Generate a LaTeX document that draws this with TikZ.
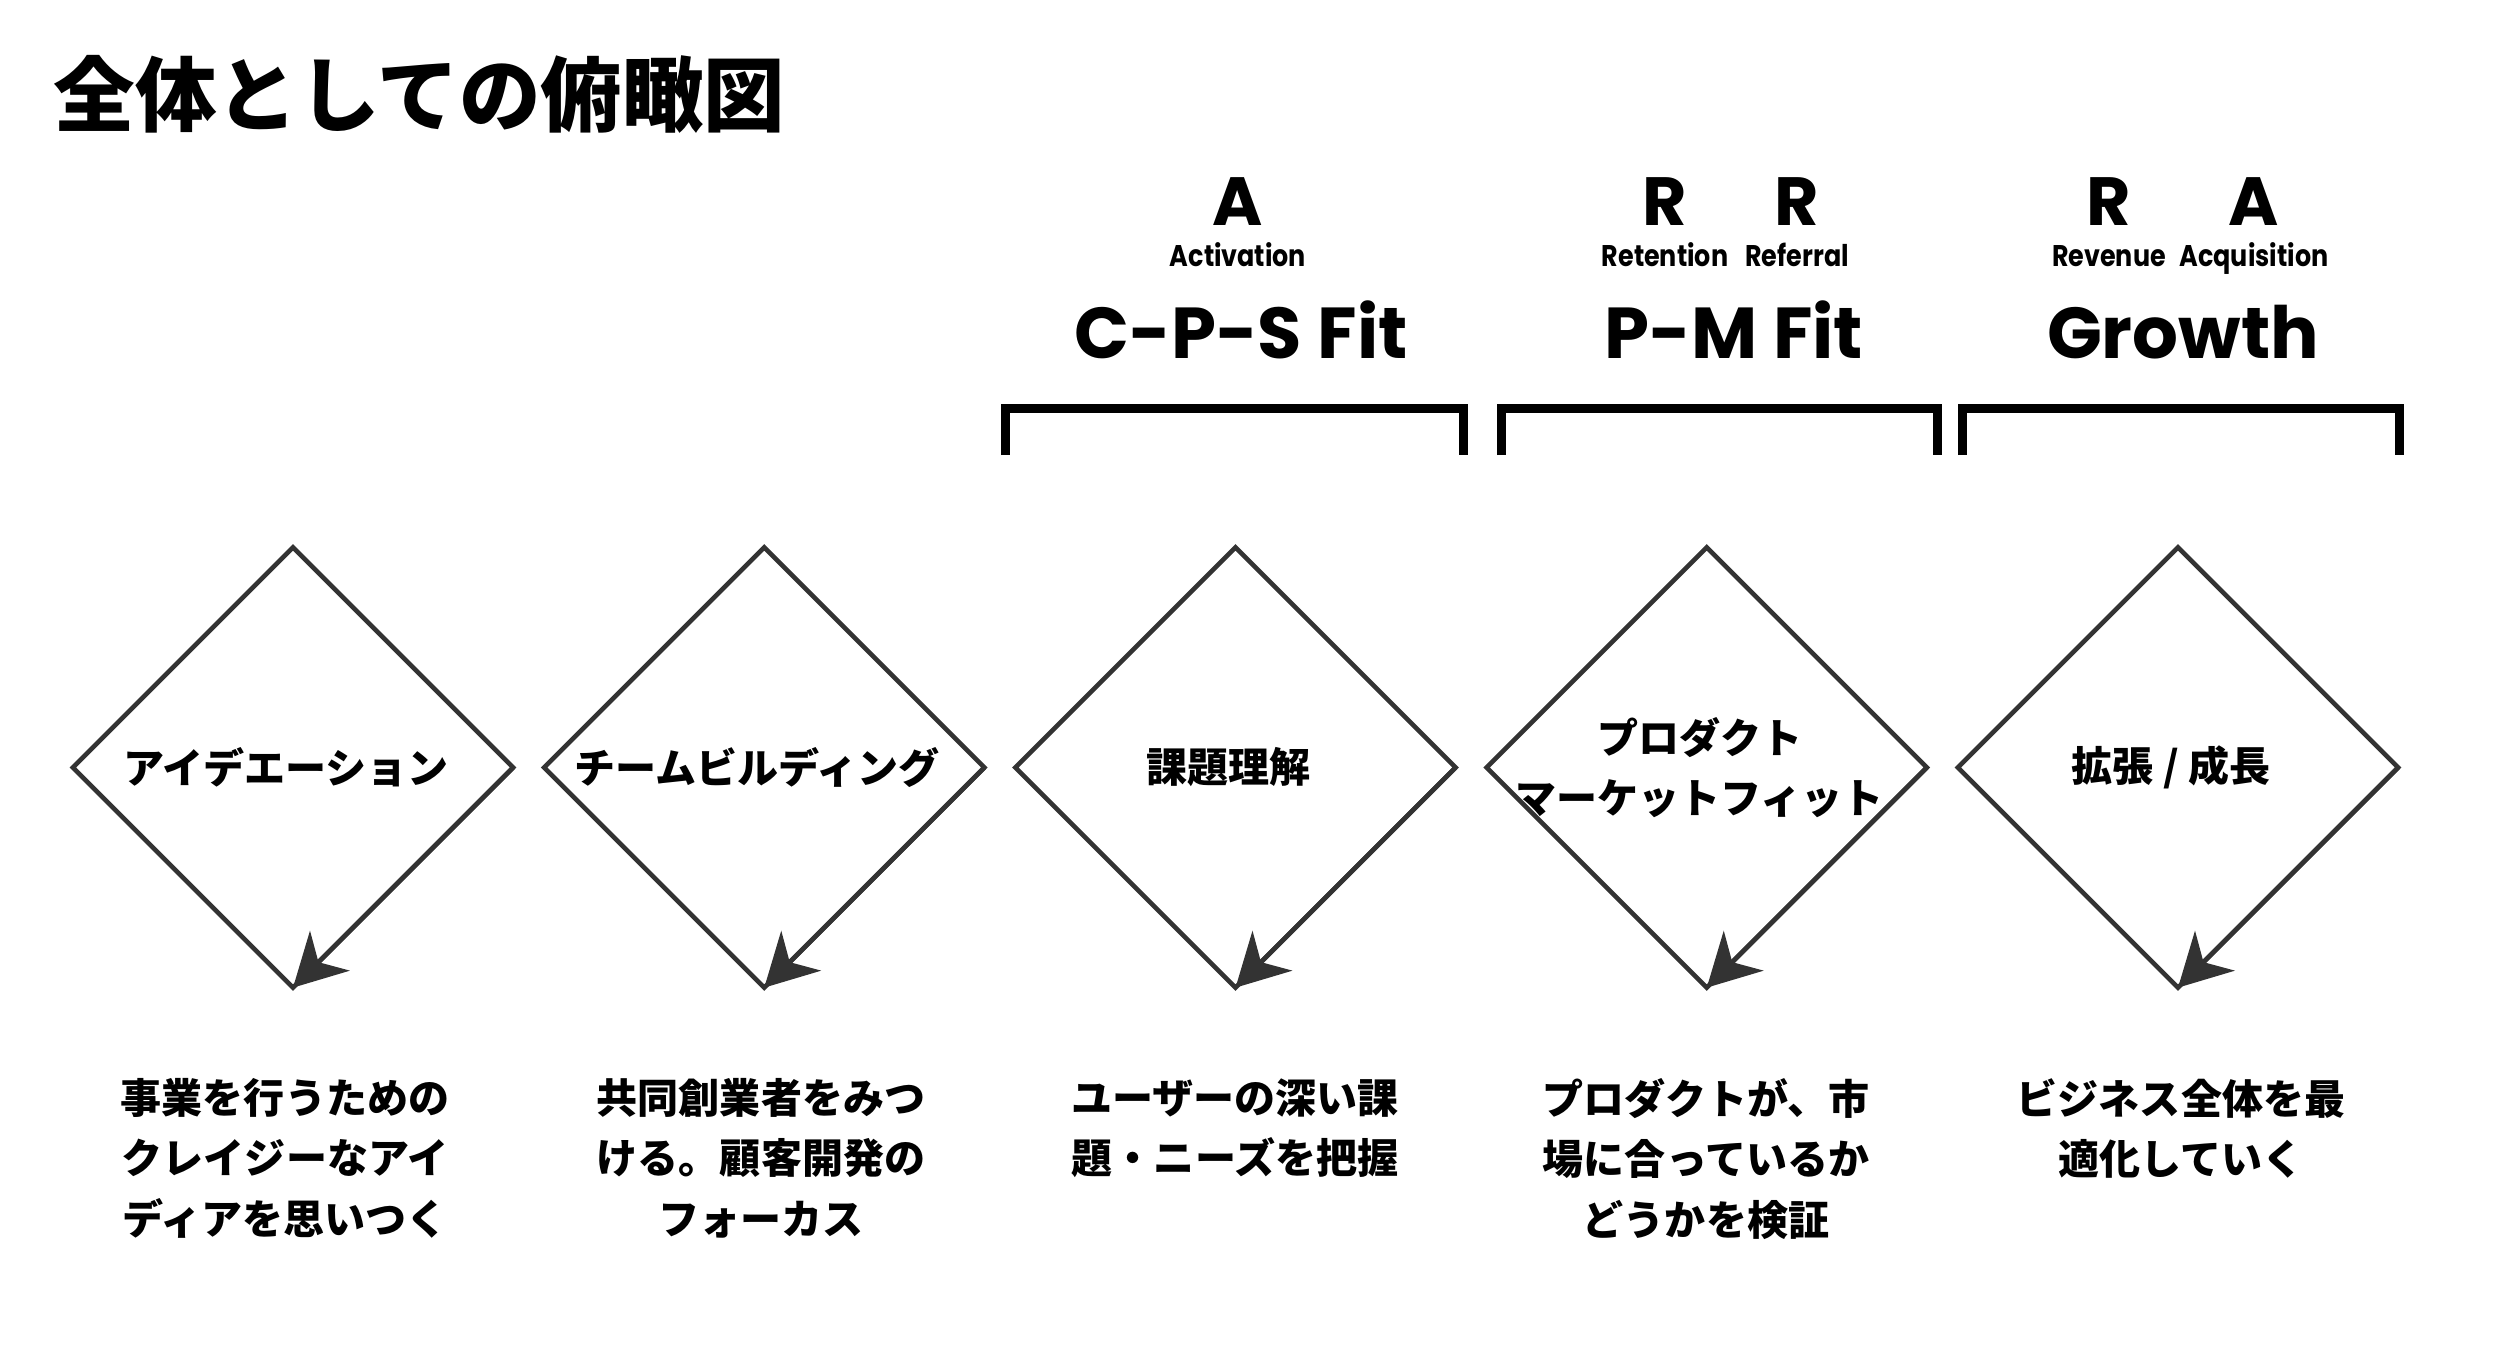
\documentclass[tikz,border=0pt]{standalone}
\usepackage{fontspec}
\usetikzlibrary{shapes.geometric,arrows.meta}
\newfontfamily\jpfont{Noto Sans CJK JP}
\newfontfamily\popfont{Poppins}
\newfontfamily\popnarrow{Poppins}[FakeStretch=0.85]
\definecolor{ink}{HTML}{333333}
\tikzstyle{stage} = [diamond, draw=ink, line width=0.045cm, minimum width=4.4cm, minimum height=4.4cm, inner sep=0pt, outer sep=0pt]
\tikzstyle{stagetext} = [font=\jpfont\bfseries\fontsize{11.67}{17.2}\selectfont, align=center, inner sep=0pt, xshift=-0.07cm]
\tikzstyle{flow} = [draw=ink, line width=0.045cm, -{Stealth[length=5.2mm,width=5.6mm,inset=1.6mm]}]
\tikzstyle{note} = [font=\jpfont\bfseries\fontsize{11.67}{17.1}\selectfont, align=center, anchor=north, inner sep=0pt]
\tikzstyle{letter} = [font=\popfont\bfseries\fontsize{19.4}{20}\selectfont, anchor=base, inner sep=0pt]
\tikzstyle{word} = [font=\popnarrow\bfseries\fontsize{8.5}{10}\selectfont, anchor=base, inner sep=0pt]
\tikzstyle{phasename} = [font=\popfont\bfseries\fontsize{20.5}{22}\selectfont, anchor=base, inner sep=0pt]
\tikzstyle{bracket} = [line width=0.09cm, line cap=butt, line join=miter]

\begin{document}
\begin{tikzpicture}[x=0.01cm, y=-0.01cm]
\useasboundingbox (0,0) rectangle (2500,1345);
\node[anchor=base west, inner sep=0pt, font=\jpfont\bfseries\fontsize{23.2}{26}\selectfont] (title) at (53,125.5) {全体としての俯瞰図};

\node[letter] (act) at (1238,225) {A};
\node[word] (actw) at (1238,266) {Activation};
\node[letter] (ret) at (1665,225) {R};
\node[word] (retw) at (1665,266) {Retention};
\node[letter] (ref) at (1797,225) {R};
\node[word] (refw) at (1797,266) {Referral};
\node[letter] (rev) at (2109,225) {R};
\node[word] (revw) at (2109,266) {Revenue};
\node[letter] (acq) at (2254,225) {A};
\node[word] (acqw) at (2254,266) {Acquisition};

\node[phasename] (cps) at (1241,358) {C-P-S Fit};
\node[phasename] (pm) at (1734,358) {P-M Fit};
\node[phasename] (growth) at (2183,358) {Growth};

\draw[bracket] (1005.5,455) -- (1005.5,408.5) -- (1463.5,408.5) -- (1463.5,455);
\draw[bracket] (1501.5,455) -- (1501.5,408.5) -- (1937.5,408.5) -- (1937.5,455);
\draw[bracket] (1962.5,455) -- (1962.5,408.5) -- (2399.5,408.5) -- (2399.5,455);

\node[stage] (d1) at (293,767.5) {};
\node[stagetext] (t1) at (d1) {アイデエーション};
\draw[flow] (d1.east) -- (d1.south);
\node[stage] (d2) at (764.25,767.5) {};
\node[stagetext] (t2) at (d2) {チームビルディング};
\draw[flow] (d2.east) -- (d2.south);
\node[stage] (d3) at (1235.5,767.5) {};
\node[stagetext] (t3) at (d3) {課題理解};
\draw[flow] (d3.east) -- (d3.south);
\node[stage] (d4) at (1706.75,767.5) {};
\node[stagetext] (t4) at (d4) {プロダクト\\マーケットフィット};
\draw[flow] (d4.east) -- (d4.south);
\node[stage] (d5) at (2178,767.5) {};
\node[stagetext] (t5) at (d5) {拡張 / 成長};
\draw[flow] (d5.east) -- (d5.south);

\node[note] (n1) at (285,1078) {事業を行うための\\クレイジーなアイ\\ディアを思いつく};
\node[note] (n2) at (761,1078) {共同創業者をみつ\\ける。顧客開発の\\フォーカス};
\node[note] (n3) at (1235,1078) {ユーザーの深い課\\題・ニーズを把握};
\node[note] (n4) at (1706,1078) {プロダクトが、市\\場に合っているか\\どうかを検証};
\node[note] (n5) at (2181,1078) {ビジネス全体を最\\適化していく};
\end{tikzpicture}
\end{document}
